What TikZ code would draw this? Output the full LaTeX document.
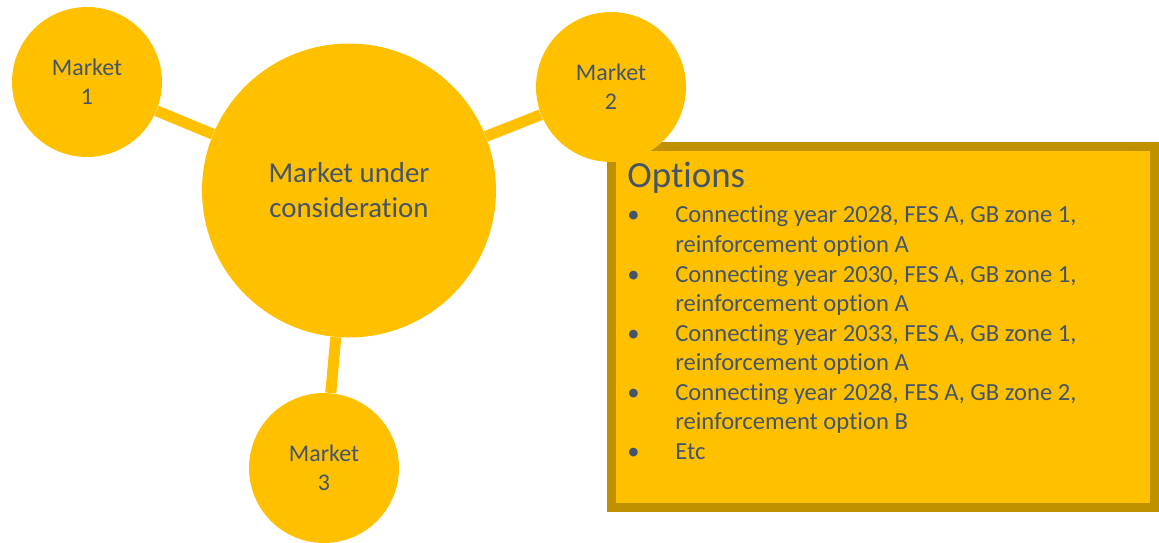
\documentclass[tikz,border=0pt]{standalone}
\usepackage{fontspec}
\setmainfont{Carlito}[Ligatures=NoCommon]
\usepackage{tikz}
\usetikzlibrary{positioning}
\definecolor{gold}{HTML}{FFC000}
\definecolor{darkgold}{HTML}{BF9000}
\definecolor{slate}{HTML}{44546A}

\begin{document}
\begin{tikzpicture}[x=0.02cm, y=-0.02cm,
    market/.style={circle, fill=gold, text=slate, minimum size=3cm, inner sep=0,
      align=center, font=\fontsize{13.6}{16.5}\selectfont},
    link/.style={gold, line width=0.22cm}]
      \useasboundingbox (0,0) rectangle (1159,543);
      \node[draw=darkgold, line width=0.18cm, fill=gold, inner sep=0,
        minimum width=10.86cm, minimum height=7.22cm, anchor=north west]
        (opts) at (607,142) {};
      \node[market] (m1) at (87,82) {Market\\1};
      \node[market, minimum size=5.88cm, font=\fontsize{16.4}{19.8}\selectfont]
        (core) at (349,190.5) {Market under\\consideration};
      \node[market] (m2) at (611,87) {Market\\2};
      \node[market] (m3) at (324,468) {Market\\3};
      \draw[link] (m1) -- (core);
      \draw[link] (m2) -- (core);
      \draw[link] (m3) -- (core);
      \node[anchor=base west, inner sep=0, text=slate,
        font=\fontsize{21}{25}\selectfont] (title) at (627,188) {Options};
      \node[anchor=base west, inner sep=0, text=slate,
        font=\fontsize{14}{16.8}\selectfont] (list) at (627,223)
      {\begin{tabular}[t]{@{}p{0.96cm}@{}l@{}}
        \textbullet & Connecting year 2028, FES A, GB zone 1, \\
        & reinforcement option A \\
        \textbullet & Connecting year 2030, FES A, GB zone 1, \\
        & reinforcement option A \\
        \textbullet & Connecting year 2033, FES A, GB zone 1, \\
        & reinforcement option A \\
        \textbullet & Connecting year 2028, FES A, GB zone 2, \\
        & reinforcement option B \\
        \textbullet & Etc
      \end{tabular}};
    \end{tikzpicture}
\end{document}
